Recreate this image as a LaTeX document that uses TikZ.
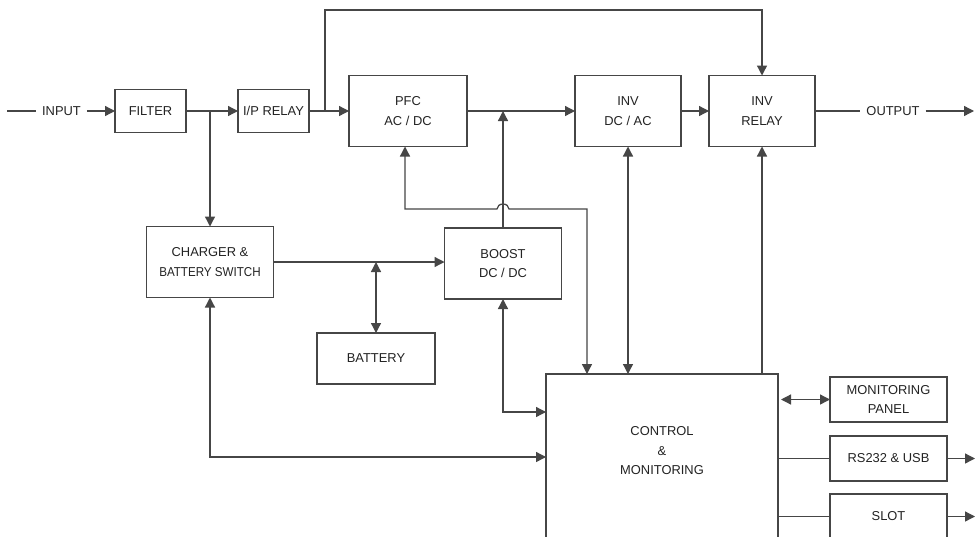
\documentclass[tikz,border=0pt]{standalone}
\usepackage{fontspec}
\usepackage{graphicx}
\setmainfont{Liberation Sans}
\usetikzlibrary{arrows.meta,calc}
\definecolor{ln}{RGB}{70,70,70}
\definecolor{tx}{RGB}{35,35,35}
\begin{document}
\begin{tikzpicture}[x=1pt,y=-1pt,
  txtfont/.style={font=\fontsize{12.9}{19.5}\selectfont},
  box/.style={draw=ln, line width=1.3pt, text=tx, align=center, inner sep=0pt, outer sep=0pt, txtfont},
  lbl/.style={text=tx, inner xsep=6pt, inner ysep=0pt, outer sep=0pt, txtfont},
  wire/.style={draw=ln, line width=1.3pt},
  arr/.style={wire, -{Triangle[length=10pt,width=10pt]}},
  darr/.style={wire, {Triangle[length=10pt,width=10pt]}-{Triangle[length=10pt,width=10pt]}},
]
\clip (0,0) rectangle (976,536);
\fill[white] (0,0) rectangle (976,536);

% nodes
\node[lbl] (input) at (61.5,111) {INPUT};
\node[box, minimum width=71, minimum height=43] (filter) at (150.5,111) {FILTER};
\node[box, minimum width=71, minimum height=43] (iprelay) at (273.5,111) {I/P RELAY};
\node[box, minimum width=118, minimum height=71] (pfc) at (408,111) {PFC\\AC / DC};
\node[box, minimum width=106, minimum height=71] (inv) at (628,111) {INV\\DC / AC};
\node[box, minimum width=106, minimum height=71] (invrelay) at (762,111) {INV\\RELAY};
\node[lbl] (output) at (893,111) {OUTPUT};
\node[box, minimum width=127, minimum height=71] (charger) at (210,262) {CHARGER \&\\\scalebox{0.9}[1]{BATTERY SWITCH}};
\node[box, minimum width=117, minimum height=71] (boost) at (503,263.5) {BOOST\\DC / DC};
\node[box, minimum width=118, minimum height=51] (battery) at (376,358.5) {BATTERY};
\node[box, minimum width=232, minimum height=171] (ctrl) at (662,459.5) {};
\node[lbl, align=center, yshift=8.5pt] (ctrltext) at (ctrl.center) {CONTROL\\\&\\MONITORING};
\node[box, minimum width=117, minimum height=45] (monpanel) at (888.5,399.5) {MONITORING\\PANEL};
\node[box, minimum width=117, minimum height=45] (rs) at (888.5,458.5) {RS232 \& USB};
\node[box, minimum width=117, minimum height=45] (slot) at (888.5,516.5) {SLOT};

% coordinates
\coordinate (inS) at (7,111);
\coordinate (outE) at (974,111);
\coordinate (j1) at (210,111);
\coordinate (j2) at (325,111);
\coordinate (topy) at (0,10);
\coordinate (fb1) at (405,209);
\coordinate (hL) at (497,209);
\coordinate (fb2) at (587,209);
\coordinate (cw1) at (0,412);
\coordinate (cw2) at (0,457);
\coordinate (rsE) at (975,458.5);
\coordinate (slE) at (975,516.5);

% main power path
\draw[wire] (inS) -- (input.west);
\draw[arr] (input.east) -- (filter.west);
\draw[arr] (filter.east) -- (iprelay.west);
\draw[arr] (j1) -- (charger.north);
\draw[arr] (iprelay.east) -- (pfc.west);
\draw[arr] (j2) |- (invrelay.north |- topy) -- (invrelay.north);
\draw[arr] (pfc.east) -- (inv.west);
\draw[arr] (inv.east) -- (invrelay.west);
\draw[wire] (invrelay.east) -- (output.west);
\draw[arr] (output.east) -- (outE);

% battery path
\draw[arr] (boost.north) -- (boost.north |- pfc.east);
\draw[arr] (charger.east) -- (charger.east -| boost.west);
\draw[darr] (battery.north |- charger.east) -- (battery.north);

% control connections
\draw[darr] (pfc.south -| fb1) -- (fb1) -- (hL) arc[start angle=180, end angle=360, x radius=6, y radius=5] -- (fb2) -- (ctrl.north -| fb2);
\draw[darr] (inv.south) -- (inv.south |- ctrl.north);
\draw[arr] (ctrl.north -| invrelay.south) -- (invrelay.south);
\draw[darr] (boost.south) |- (ctrl.west |- cw1);
\draw[darr] (charger.south) |- (ctrl.west |- cw2);
\draw[darr, shorten <=3pt] (ctrl.east |- monpanel.west) -- (monpanel.west);
\draw[wire] (ctrl.east |- rs.west) -- (rs.west);
\draw[arr] (rs.east) -- (rsE);
\draw[wire] (ctrl.east |- slot.west) -- (slot.west);
\draw[arr] (slot.east) -- (slE);
\end{tikzpicture}
\end{document}
